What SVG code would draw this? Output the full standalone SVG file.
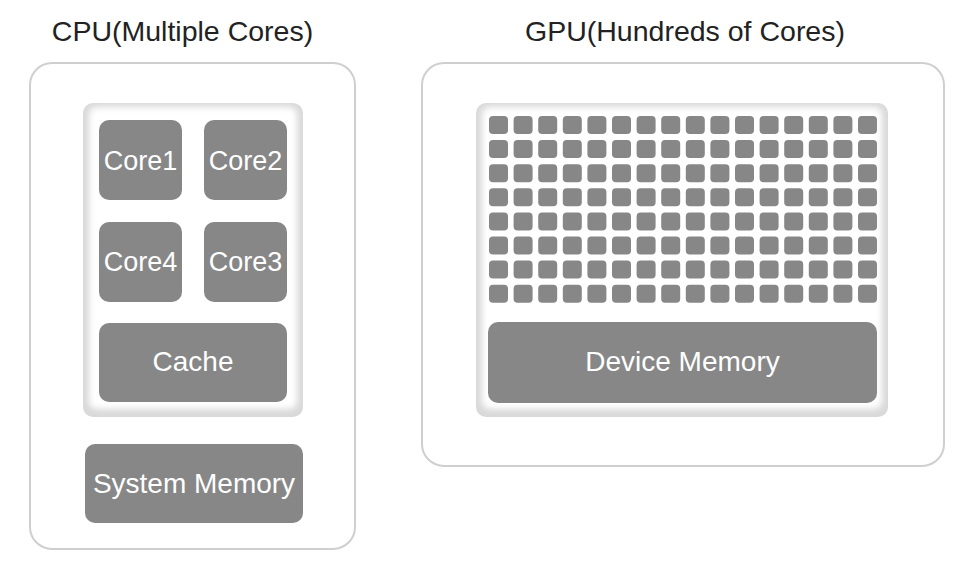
<svg xmlns="http://www.w3.org/2000/svg" xmlns:xlink="http://www.w3.org/1999/xlink" width="973" height="566" viewBox="0 0 973 566">
<style>
.title{font-family:"Liberation Sans",Arial,sans-serif;font-size:28.5px;fill:#222;text-anchor:middle}
.lbl{font-family:"Liberation Sans",Arial,sans-serif;font-size:28px;fill:#fff;text-anchor:middle}
.core{font-size:27px}
.outer{fill:#fff;stroke:#cfcfcf;stroke-width:2}
.tray{fill:#d9d9d9}
.trayin{fill:#fff;filter:url(#soft)}
.blk{fill:#878787}
</style>
<defs>
<filter id="soft" x="-10%" y="-10%" width="120%" height="120%"><feGaussianBlur stdDeviation="3"/></filter>
<rect id="cell" width="19" height="18" rx="4" fill="#878787"/>
<g id="row">
<use href="#cell" x="0"/><use href="#cell" x="24.6"/><use href="#cell" x="49.2"/><use href="#cell" x="73.8"/>
<use href="#cell" x="98.4"/><use href="#cell" x="123"/><use href="#cell" x="147.6"/><use href="#cell" x="172.2"/>
<use href="#cell" x="196.8"/><use href="#cell" x="221.4"/><use href="#cell" x="246"/><use href="#cell" x="270.6"/>
<use href="#cell" x="295.2"/><use href="#cell" x="319.8"/><use href="#cell" x="344.4"/><use href="#cell" x="369"/>
</g>
</defs>
<rect width="973" height="566" fill="#fff"/>

<g id="cpu">
<text class="title" x="182.5" y="41">CPU(Multiple Cores)</text>
<rect class="outer" x="30" y="63" width="325" height="486" rx="22"/>
<g id="cpu-tray">
<rect class="tray" x="83" y="103" width="220" height="314" rx="10"/>
<rect class="trayin" x="89" y="107" width="208" height="302" rx="8"/>
</g>
<g id="core1"><rect class="blk" x="99" y="120" width="83" height="80" rx="10"/><text class="lbl core" x="140.5" y="170">Core1</text></g>
<g id="core2"><rect class="blk" x="204" y="120" width="83" height="80" rx="10"/><text class="lbl core" x="245.5" y="170">Core2</text></g>
<g id="core4"><rect class="blk" x="99" y="222" width="83" height="80" rx="10"/><text class="lbl core" x="140.5" y="271">Core4</text></g>
<g id="core3"><rect class="blk" x="204" y="222" width="83" height="80" rx="10"/><text class="lbl core" x="245.5" y="271">Core3</text></g>
<g id="cache"><rect class="blk" x="99" y="323" width="188" height="79" rx="10"/><text class="lbl" x="193" y="371">Cache</text></g>
<g id="sysmem"><rect class="blk" x="85" y="444" width="218" height="79" rx="10"/><text class="lbl" x="194" y="493">System Memory</text></g>
</g>

<g id="gpu">
<text class="title" x="685" y="41">GPU(Hundreds of Cores)</text>
<rect class="outer" x="422" y="63" width="522" height="403" rx="22"/>
<g id="gpu-tray">
<rect class="tray" x="476" y="103" width="412" height="314" rx="10"/>
<rect class="trayin" x="482" y="107" width="400" height="302" rx="8"/>
</g>
<g id="gpu-cores" transform="translate(489,116)">
<use href="#row" y="0"/><use href="#row" y="24.1"/><use href="#row" y="48.2"/><use href="#row" y="72.3"/>
<use href="#row" y="96.4"/><use href="#row" y="120.5"/><use href="#row" y="144.6"/><use href="#row" y="168.7"/>
</g>
<g id="devmem"><rect class="blk" x="488" y="322" width="389" height="81" rx="10"/><text class="lbl" x="682.5" y="371">Device Memory</text></g>
</g>

<g id="connectors"/>
</svg>
